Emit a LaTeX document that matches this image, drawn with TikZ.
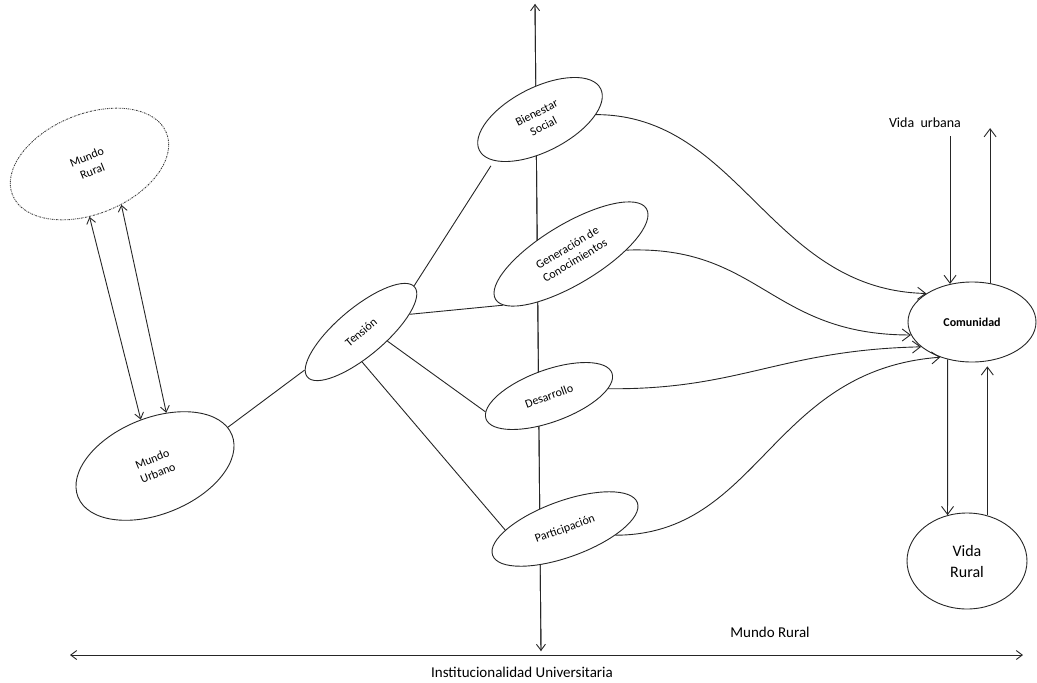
\documentclass[tikz,border=0pt]{standalone}
\usepackage{fontspec}
\setmainfont{Carlito}
\usetikzlibrary{shapes.geometric,arrows.meta}
\begin{document}
\begin{tikzpicture}[x=1pt,y=-1pt,
  ell/.style={ellipse,draw=black!85,fill=white,inner sep=0pt,line width=0.9pt,align=center,font=\fontsize{12}{15}\selectfont},
  conn/.style={line width=0.9pt,draw=black!85},
  tip/.style={-{Straight Barb[length=6pt,width=9pt]}},
  bigtip/.style={-{Straight Barb[length=8pt,width=12pt]}},
  arr/.style={conn,tip},
  barr/.style={conn,bigtip},
  darr/.style={conn,{Straight Barb[length=6pt,width=9pt]}-{Straight Barb[length=6pt,width=9pt]}},
  lbl/.style={font=\fontsize{15}{17}\selectfont,inner sep=0pt}]
\useasboundingbox (0,0) rectangle (1037,683);

% axis lines
\coordinate (top) at (535,4);
\coordinate (bot) at (541,651);
\coordinate (hl) at (70,655);
\coordinate (hr) at (1023,655);
\draw[arr] (bot) -- (top);
\draw[arr] (top) -- (bot);
\draw[darr] (hl) -- (hr);

% nodes
\node[ell,draw=black!75,dash pattern=on 1.6pt off 1pt on 0.6pt off 1pt,minimum width=166pt,minimum height=100pt,rotate=22] (mr) at (89.5,164) {Mundo\\Rural};
\node[ell,minimum width=166pt,minimum height=96pt,rotate=22] (mu) at (155,466) {Mundo\\Urbano};
\node[ell,minimum width=140pt,minimum height=48pt,rotate=40] (te) at (361,332) {Tensión};
\node[ell,minimum width=136pt,minimum height=64pt,rotate=27] (bs) at (540,119.5) {Bienestar\\Social};
\node[ell,minimum width=176pt,minimum height=60pt,rotate=31] (gc) at (571,254) {Generación de\\Conocimientos};
\node[ell,minimum width=134pt,minimum height=52pt,rotate=20] (de) at (549,396) {Desarrollo};
\node[ell,minimum width=154pt,minimum height=56pt,rotate=20] (pa) at (565,529) {Participación};
\node[ell,font=\fontsize{12}{13.5}\selectfont\bfseries,minimum width=128pt,minimum height=80pt] (co) at (972,322) {Comunidad};
\node[ell,font=\fontsize{16}{21}\selectfont,minimum width=120pt,minimum height=96pt] (vr) at (967,561) {Vida\\Rural};

% labels
\node[lbl,font=\fontsize{14}{16}\selectfont] (vu) at (925,123) {Vida\ \ urbana};
\node[lbl] (mrl) at (770,632) {Mundo Rural};
\node[lbl] (iu) at (522,672) {Institucionalidad Universitaria};

% mundo rural <-> mundo urbano
\draw[darr] (mr.248) -- (mu.85.5);
\draw[darr] (mr.-74) -- (mu.56);
\draw[conn] (mu.6.5) -- (te.174);

% tension to the four nodes
\draw[conn,shorten >=6pt] (te.1) -- (bs.195);
\draw[conn] (te.-20) -- (gc.186);
\draw[conn] (te.-59) -- (de.174);
\draw[conn] (te.-128) -- (pa.161);

% curves to comunidad
\draw[barr] (bs.-22) .. controls (740,115) and (770,290) .. (co.148);
\draw[barr] (gc.-27) .. controls (760,245) and (770,335) .. (co.192);
\draw[barr] (de.-13) .. controls (740,390) and (780,350) .. (co.206);
\draw[barr] (pa.-27) .. controls (760,535) and (770,370) .. (co.228);

% vida urbana / vida rural arrows
\draw[barr] ([yshift=-8pt]vu.south -| co.120) -- (co.120);
\draw[barr] (co.65) -- (co.65 |- vu.south);
\draw[barr] (co.237) -- (vr.113);
\draw[barr] (vr.66) -- ([yshift=-5pt]vr.66 |- co.-69);
\end{tikzpicture}
\end{document}
